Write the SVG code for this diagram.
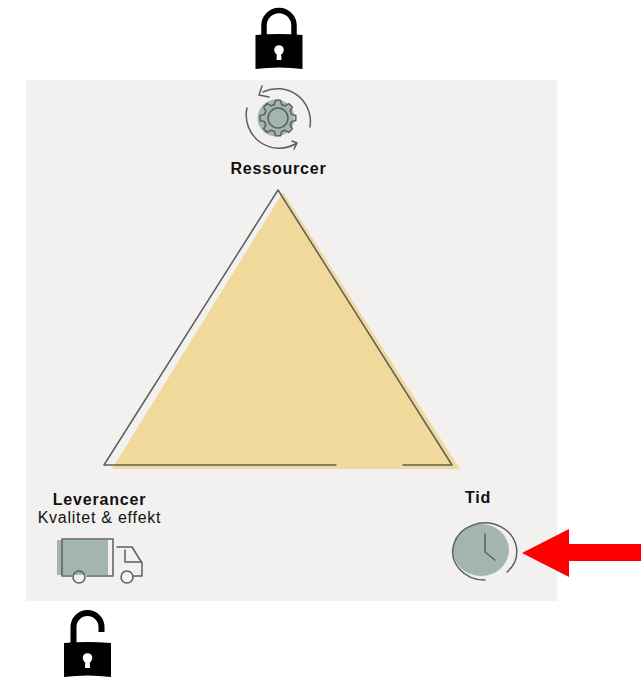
<svg xmlns="http://www.w3.org/2000/svg" width="641" height="678" viewBox="0 0 641 678">
<style>
.ln{fill:none;stroke:#5b5f5d;stroke-width:1.5;stroke-linecap:round;stroke-linejoin:round}
.b{font:bold 16px "Liberation Sans",Arial,sans-serif;fill:#111;text-anchor:middle;letter-spacing:.8px}
.r{font:16px "Liberation Sans",Arial,sans-serif;fill:#111;text-anchor:middle;letter-spacing:.75px}
.sage{fill:#a3b5ac}
</style>
<defs>
<g id="body"><path d="M-23.500 -1Q0 -3 23.500 -1V33Q0 30 -23.500 33Z" fill="#000"/><circle cx="0" cy="14" r="4.800" fill="#fff"/><path d="M-2 14H2L2.500 24H-2.500Z" fill="#fff"/></g>
</defs>
<rect id="panel" x="26" y="80" width="531" height="521" fill="#f3f1f0"/>
<g id="triangle">
<polygon points="283,192 460,469 112,469" fill="#f0d99a"/>
<path class="ln" d="M336 465H104L278 190L452 465H403"/>
</g>
<g id="lock-closed" transform="translate(279,36)">
<path d="M-15 2V-10.500A15 15 0 0 1 15 -10.500V2" fill="none" stroke="#000" stroke-width="5.500"/>
<use href="#body"/>
</g>
<g id="ressourcer">
<circle class="sage" cx="276" cy="118" r="18.500"/>
<path class="ln" transform="translate(278,118)" d="M13.520 -3.620L17.830 -2.510L17.830 2.510L13.520 3.620L12.120 7L14.380 10.830L10.830 14.380L7 12.120L3.620 13.520L2.510 17.830L-2.510 17.830L-3.620 13.520L-7 12.120L-10.830 14.380L-14.380 10.830L-12.120 7L-13.520 3.620L-17.830 2.510L-17.830 -2.510L-13.520 -3.620L-12.120 -7L-14.380 -10.830L-10.830 -14.380L-7 -12.120L-3.620 -13.520L-2.510 -17.830L2.510 -17.830L3.620 -13.520L7 -12.120L10.830 -14.380L14.380 -10.830L12.120 -7Z"/>
<circle class="ln" cx="278" cy="118" r="10"/>
<path class="ln" d="M263 92A33 33 0 0 1 310 127M262 86L259 95L269 97"/>
<path class="ln" d="M247 108A33 33 0 0 0 297 143M292 141L297 143L294 149"/>
<text class="b" x="278.500" y="174">Ressourcer</text>
</g>
<g id="leverancer">
<text class="b" x="99.500" y="505">Leverancer</text>
<text class="r" x="99.500" y="523">Kvalitet &amp; effekt</text>
<rect class="sage" x="57" y="540" width="51" height="35"/>
<path class="ln" d="M62 539V576H72M87 576H113V539H62M117 547H132L142 563V576H133M125 550V562H142"/>
<circle class="ln" cx="79" cy="577" r="6"/>
<circle class="ln" cx="127" cy="577" r="6"/>
</g>
<g id="lock-open" transform="translate(87.500,644)">
<path d="M-14 2V-17A14 14 0 0 1 14 -17V-12" fill="none" stroke="#000" stroke-width="6"/>
<use href="#body"/>
</g>
<g id="tid">
<text class="b" x="478" y="503">Tid</text>
<ellipse class="sage" cx="481" cy="550" rx="28" ry="26"/>
<path class="ln" d="M485 534V552L495 560"/>
<path class="ln" d="M485 580A32 28.500 0 1 1 507 572"/>
</g>
<polygon id="arrow" points="522,553 569,529 569,544 641,544 641,561 569,561 569,577" fill="#f00"/>
</svg>
